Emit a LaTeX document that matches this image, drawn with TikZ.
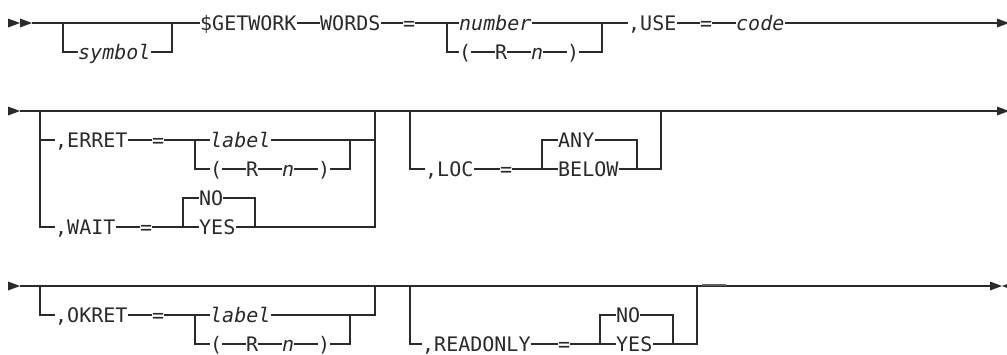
\documentclass[tikz,border=0pt]{standalone}
\usepackage{fontspec}
\setmainfont{DejaVu Sans Mono}[ItalicFont={DejaVu Sans Mono Oblique}]
\definecolor{ink}{HTML}{2A2A2A}
\tikzset{
  tok/.style={anchor=west, inner xsep=0pt, inner ysep=0pt, text height=18pt, text depth=3pt, text=ink, font=\fontsize{20}{24}\selectfont},
  var/.style={tok, font=\fontsize{20}{24}\selectfont\itshape},
  rail/.style={draw=ink, line width=1.2pt},
  tipmark/.style={fill=ink, draw=none},
}
\begin{document}
\begin{tikzpicture}[x=1pt,y=-1pt]
\fill[white] (0,0) rectangle (1007,354);
\useasboundingbox (0,0) rectangle (1007,354);
% ---------------- Row 1 ----------------
\fill[tipmark] (8,18.5) -- (20,23) -- (8,27.5) -- cycle;
\fill[tipmark] (20,18.5) -- (32,23) -- (20,27.5) -- cycle;
\coordinate (r1s) at (32,23);
\coordinate (b1l) at (63,23);  \coordinate (b1lb) at (63,52);
\coordinate (b1r) at (172,23); \coordinate (b1rb) at (172,52);
\node[var] (sym) at (78,52) {symbol};
\node[tok] (get) at (200,23) {\$GETWORK};
\node[tok] (words) at (320,23) {WORDS};
\node[tok] (eq1) at (403,23) {=};
\coordinate (c1l) at (447,23); \coordinate (c1lb) at (447,52);
\node[var] (num) at (459,23) {number};
\node[tok] (lp1) at (459,52) {(};
\node[tok] (R1) at (495,52) {R};
\node[var] (n1) at (531,52) {n};
\node[tok] (rp1) at (567,52) {)};
\coordinate (c1r) at (602,23); \coordinate (c1rb) at (602,52);
\node[tok] (use) at (628,23) {,USE};
\node[tok] (eq2) at (700,23) {=};
\node[var] (code) at (736,23) {code};
\coordinate (e1) at (997,23);
\draw[rail] (r1s) -- (get.west);
\draw[rail] (b1l) -- (b1lb) -- (sym.west);
\draw[rail] (sym.east) -- (b1rb) -- (b1r);
\draw[rail] (get.east) -- (words.west);
\draw[rail] (words.east) -- (eq1.west);
\draw[rail] (eq1.east) -- (num.west);
\draw[rail] (c1l) -- (c1lb) -- (lp1.west);
\draw[rail] (lp1.east) -- (R1.west);
\draw[rail] (R1.east) -- (n1.west);
\draw[rail] (n1.east) -- (rp1.west);
\draw[rail] (rp1.east) -- (c1rb) -- (c1r);
\draw[rail] (num.east) -- (use.west);
\draw[rail] (use.east) -- (eq2.west);
\draw[rail] (eq2.east) -- (code.west);
\draw[rail] (code.east) -- (e1);
\fill[tipmark] (997,18.5) -- (1009,23) -- (997,27.5) -- cycle;
% ---------------- Row 2 ----------------
\fill[tipmark] (8,106.5) -- (20,111) -- (8,115.5) -- cycle;
\coordinate (r2s) at (20,111);
\coordinate (e2) at (997,111);
\coordinate (o2l) at (40,111); \coordinate (o2l1) at (40,140); \coordinate (o2l4) at (40,227);
\node[tok] (erret) at (55,140) {,ERRET};
\node[tok] (eq3) at (152,140) {=};
\coordinate (i2l) at (195,140); \coordinate (i2lb) at (195,169);
\node[var] (lab2) at (210,140) {label};
\node[tok] (lp2) at (210,169) {(};
\node[tok] (R2) at (246,169) {R};
\node[var] (n2) at (282,169) {n};
\node[tok] (rp2) at (318,169) {)};
\coordinate (i2r) at (350,140); \coordinate (i2rb) at (350,169);
\coordinate (o2r) at (375,111); \coordinate (o2r1) at (375,140); \coordinate (o2r4) at (375,227);
\node[tok] (wait) at (55,227) {,WAIT};
\node[tok] (eq4) at (140,227) {=};
\coordinate (w2l) at (183,198); \coordinate (w2lb) at (183,227);
\node[tok] (no2) at (199,198) {NO};
\node[tok] (yes2) at (199,227) {YES};
\coordinate (w2r) at (255,198); \coordinate (w2rb) at (255,227);
\coordinate (l2l) at (410,111); \coordinate (l2lb) at (410,169);
\node[tok] (loc) at (425,169) {,LOC};
\node[tok] (eq5) at (500,169) {=};
\coordinate (a2l) at (542,140); \coordinate (a2lb) at (542,169);
\node[tok] (any) at (558,140) {ANY};
\node[tok] (below) at (558,169) {BELOW};
\coordinate (a2r) at (637,140); \coordinate (a2rb) at (637,169);
\coordinate (l2r) at (661,111); \coordinate (l2rb) at (661,169);
\draw[rail] (r2s) -- (e2);
\draw[rail] (o2l) -- (o2l4) -- (wait.west);
\draw[rail] (o2l1) -- (erret.west);
\draw[rail] (erret.east) -- (eq3.west);
\draw[rail] (eq3.east) -- (lab2.west);
\draw[rail] (i2l) -- (i2lb) -- (lp2.west);
\draw[rail] (lp2.east) -- (R2.west);
\draw[rail] (R2.east) -- (n2.west);
\draw[rail] (n2.east) -- (rp2.west);
\draw[rail] (rp2.east) -- (i2rb) -- (i2r);
\draw[rail] (lab2.east) -- (o2r1);
\draw[rail] (wait.east) -- (eq4.west);
\draw[rail] (eq4.east) -- (yes2.west);
\draw[rail] (w2lb) -- (w2l) -- (no2.west);
\draw[rail] (no2.east) -- (w2r) -- (w2rb);
\draw[rail] (yes2.east) -- (o2r4) -- (o2r);
\draw[rail] (l2l) -- (l2lb) -- (loc.west);
\draw[rail] (loc.east) -- (eq5.west);
\draw[rail] (eq5.east) -- (below.west);
\draw[rail] (a2lb) -- (a2l) -- (any.west);
\draw[rail] (any.east) -- (a2r) -- (a2rb);
\draw[rail] (below.east) -- (l2rb) -- (l2r);
\fill[tipmark] (997,106.5) -- (1009,111) -- (997,115.5) -- cycle;
% ---------------- Row 3 ----------------
\fill[tipmark] (8,281.5) -- (20,286) -- (8,290.5) -- cycle;
\coordinate (r3s) at (20,286);
\coordinate (e3) at (990,286);
\coordinate (o3l) at (40,286); \coordinate (o3lb) at (40,315);
\node[tok] (okret) at (55,315) {,OKRET};
\node[tok] (eq6) at (152,315) {=};
\coordinate (i3l) at (195,315); \coordinate (i3lb) at (195,344);
\node[var] (lab3) at (210,315) {label};
\node[tok] (lp3) at (210,344) {(};
\node[tok] (R3) at (246,344) {R};
\node[var] (n3) at (282,344) {n};
\node[tok] (rp3) at (318,344) {)};
\coordinate (i3r) at (350,315); \coordinate (i3rb) at (350,344);
\coordinate (o3r) at (375,286); \coordinate (o3rb) at (375,315);
\coordinate (q3l) at (410,286); \coordinate (q3lb) at (410,344);
\node[tok] (ro) at (422,344) {,READONLY};
\node[tok] (eq7) at (558,344) {=};
\coordinate (y3l) at (600,315); \coordinate (y3lb) at (600,344);
\node[tok] (no3) at (616,315) {NO};
\node[tok] (yes3) at (616,344) {YES};
\coordinate (y3r) at (673,315); \coordinate (y3rb) at (673,344);
\coordinate (q3r) at (697,286); \coordinate (q3rb) at (697,344);
\coordinate (fx1) at (702,285.3); \coordinate (fx2) at (726,285.3);
\draw[rail] (r3s) -- (e3);
\draw[rail] (o3l) -- (o3lb) -- (okret.west);
\draw[rail] (okret.east) -- (eq6.west);
\draw[rail] (eq6.east) -- (lab3.west);
\draw[rail] (i3l) -- (i3lb) -- (lp3.west);
\draw[rail] (lp3.east) -- (R3.west);
\draw[rail] (R3.east) -- (n3.west);
\draw[rail] (n3.east) -- (rp3.west);
\draw[rail] (rp3.east) -- (i3rb) -- (i3r);
\draw[rail] (lab3.east) -- (o3rb) -- (o3r);
\draw[rail] (q3l) -- (q3lb) -- (ro.west);
\draw[rail] (ro.east) -- (eq7.west);
\draw[rail] (eq7.east) -- (yes3.west);
\draw[rail] (y3lb) -- (y3l) -- (no3.west);
\draw[rail] (no3.east) -- (y3r) -- (y3rb);
\draw[rail] (yes3.east) -- (q3rb) -- (q3r);
\draw[draw=ink!75, line width=1.8pt] (fx1) -- (fx2);
\fill[tipmark] (990,281.5) -- (1002,286) -- (990,290.5) -- cycle;
\fill[tipmark] (1014,281.5) -- (1002,286) -- (1014,290.5) -- cycle;
\end{tikzpicture}
\end{document}
